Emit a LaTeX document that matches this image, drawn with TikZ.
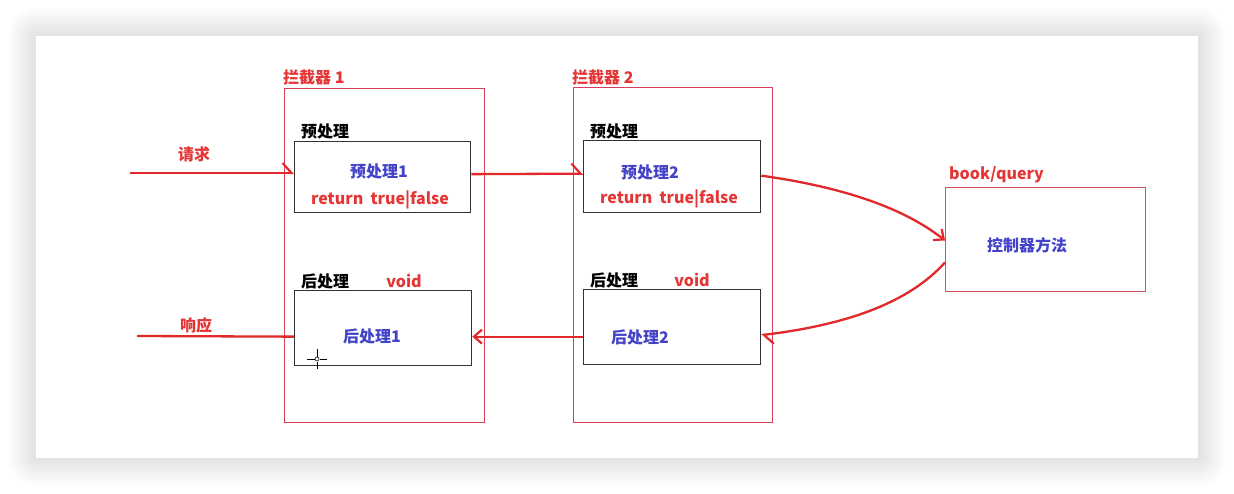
\documentclass[tikz,border=0pt]{standalone}
\usepackage{fontspec}
\setmainfont{Noto Sans CJK SC}
\usetikzlibrary{arrows.meta}
\definecolor{ared}{HTML}{E2282A}
\definecolor{tred}{HTML}{E53535}
\definecolor{ibord}{HTML}{D6405C}
\definecolor{cbord}{HTML}{D35060}
\definecolor{tblue}{HTML}{4343C8}
\begin{document}
\begin{tikzpicture}[x=1pt,y=-1pt,
  font=\bfseries\fontsize{16}{18}\selectfont,
  ibox/.style={draw=ibord, line width=1pt, inner sep=0pt, anchor=north west},
  pbox/.style={draw=black!80, line width=1.3pt, inner sep=0pt, anchor=north west, minimum width=177pt},
  lbl/.style={inner sep=0pt, anchor=west},
  ctext/.style={inner sep=0pt, anchor=center},
  arr/.style={draw=ared, line width=2.3pt},
  full/.style={-{Straight Barb[length=8pt,width=14pt,line width=2.2pt]}},
  half/.style={-{Straight Barb[harpoon,length=9pt,width=20pt,line width=2.2pt]}}
]
\useasboundingbox (0,0) rectangle (1234,494);
\fill[white] (0,0) rectangle (1234,494);
% card shadow
\foreach \i in {1,...,14}{
  \fill[black, opacity=0.009, rounded corners=2*\i] (36-2*\i,36-2*\i) rectangle (1198+2*\i,458+2*\i);
}
\fill[white] (36,36) rectangle (1198,458);

% interceptors
\node[ibox, minimum width=200pt, minimum height=334pt] (i1) at (284,88) {};
\node[ibox, minimum width=199pt, minimum height=335pt] (i2) at (573,87) {};
\node[lbl, text=tred] (i1l) at (283,77) {拦截器 1};
\node[lbl, text=tred] (i2l) at (572,77) {拦截器 2};

% pre boxes
\node[pbox, minimum height=71pt, minimum width=176pt] (pre1) at (294,141) {};
\node[pbox, minimum height=72pt, minimum width=177pt] (pre2) at (583,140) {};
\node[lbl] (pre1l) at (301,131) {预处理};
\node[lbl] (pre2l) at (590,131) {预处理};
\node[ctext, text=tblue] (pre1t) at (379,171) {预处理1};
\node[ctext, text=tblue] (pre2t) at (650,172) {预处理2};
\node[ctext, text=tred] (pre1r) at (380,200) {return\ \ true|false};
\node[ctext, text=tred] (pre2r) at (669,199) {return\ \ true|false};

% post boxes
\node[pbox, minimum height=75pt] (post1) at (294,290) {};
\node[pbox, minimum height=75pt] (post2) at (583,289) {};
\node[lbl] (post1l) at (301,281) {后处理};
\node[lbl] (post2l) at (590,280) {后处理};
\node[ctext, text=tred] (v1) at (404,281) {void};
\node[ctext, text=tred] (v2) at (692,280) {void};
\node[ctext, text=tblue] (post1t) at (372,336) {后处理1};
\node[ctext, text=tblue] (post2t) at (640,337) {后处理2};

% controller
\node[draw=cbord, line width=1pt, inner sep=0pt, anchor=north west, minimum width=200pt, minimum height=104pt] (ctrl) at (945,187) {};
\node[lbl, text=tred] (ctrll) at (949,175) {book/query};
\node[ctext, text=tblue] (ctrlt) at (1027,245) {控制器方法};

% request / response
\coordinate (req) at (130,173);
\coordinate (resp) at (137,336);
\node[ctext, text=tred] (reql) at (194,154) {请求};
\node[ctext, text=tred] (respl) at (196,325) {响应};

\draw[arr, half] (req) -- (pre1.west |- req);
\draw[arr, half] ([yshift=3pt]pre1.east) -- ([yshift=3pt]pre2.west);
\draw[arr, full] ([yshift=1pt]pre2.east) .. controls (835,186) and (900,205) .. ([yshift=-1pt]ctrl.west);
\draw[arr, half] ([yshift=-23pt]ctrl.west) .. controls (918,292) and (870,322) .. ([yshift=-8pt]post2.east);
\draw[arr, full] ([yshift=-9.5pt]post2.west) -- ([yshift=-8.5pt]post1.east);
\draw[arr] ([yshift=-8.5pt]post1.west) -- (resp);

% mouse cursor
\coordinate (cur) at (317,359);
\draw[black, line width=0.8pt] ([xshift=-10pt]cur) -- ([xshift=-2.5pt]cur) ([xshift=2.5pt]cur) -- ([xshift=10pt]cur)
  ([yshift=-10pt]cur) -- ([yshift=-2.5pt]cur) ([yshift=2.5pt]cur) -- ([yshift=10pt]cur);
\draw[black, line width=0.6pt] (cur) circle (2pt);
\end{tikzpicture}
\end{document}
